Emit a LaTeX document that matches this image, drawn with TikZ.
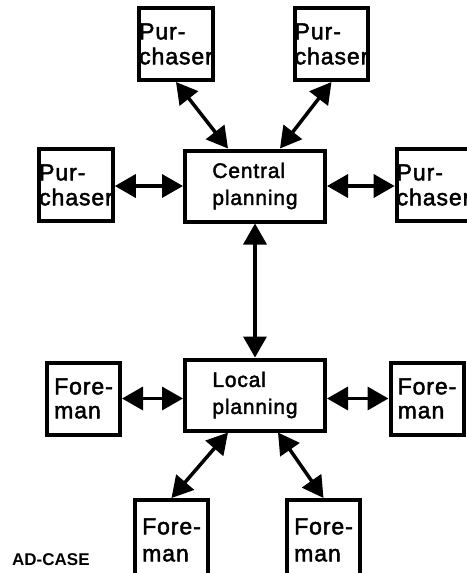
\documentclass[tikz,border=0pt]{standalone}
\usepackage{fontspec}
\setmainfont{Liberation Sans}
\newfontfamily\unitfont{Liberation Sans}[FakeBold=2, LetterSpace=4]
\usetikzlibrary{arrows.meta}

\tikzset{
  unit/.style={draw, line width=4pt, inner sep=0pt, minimum width=73pt, minimum height=72pt,
    align=left, font=\unitfont\fontsize{23}{#1}\selectfont},
  unit/.default=25,
  plan/.style={draw, line width=4pt, inner sep=0pt, minimum width=140pt, minimum height=71pt,
    align=left, font=\unitfont\fontsize{21}{27}\selectfont},
  link/.style={line width=3.5pt, <->}
}

\begin{document}
\begin{tikzpicture}[x=1pt, y=-1pt, >={Triangle[length=21pt,width=23pt]}]
\useasboundingbox (0,0) rectangle (466,573);
% the two planning offices
\node[plan] (central) at (255,186) {Central\\planning};
\node[plan] (local) at (255,395) {Local\\planning};
% purchasers round central planning
\node[unit=25] (pTL) at (176,44) {Pur-\\chaser};
\node[unit=25] (pTR) at (331.5,44) {Pur-\\chaser};
\node[unit=25] (pL) at (76,185) {Pur-\\chaser};
\node[unit=25] (pR) at (433.5,185) {Pur-\\chaser};
% foremen round local planning
\node[unit=24] (fL) at (83.5,398.5) {Fore-\\man};
\node[unit=24] (fR) at (427,398.5) {Fore-\\man};
\node[unit=27, minimum height=80pt] (fBL) at (171.5,540) {Fore-\\man};
\node[unit=27, minimum height=80pt] (fBR) at (323.5,540) {Fore-\\man};
\node[anchor=base west, inner sep=0pt, font=\fontsize{17}{20}\selectfont\bfseries] (label) at (12,565) {AD-CASE};
% links
\draw[link] (pTL.south) -- ([xshift=-27pt]central.north);
\draw[link] (pTR.south) -- ([xshift=25pt]central.north);
\draw[link] (pL.east |- central.west) -- (central.west);
\draw[link] (central.east) -- (pR.west |- central.east);
\draw[link] (central) -- (local);
\draw[link] (fL.east) -- (local.west |- fL.east);
\draw[link] (local.east |- fR.west) -- (fR.west);
\draw[link] ([xshift=-27pt]local.south) -- (fBL.north);
\draw[link] ([xshift=23pt]local.south) -- (fBR.north);
\end{tikzpicture}
\end{document}
